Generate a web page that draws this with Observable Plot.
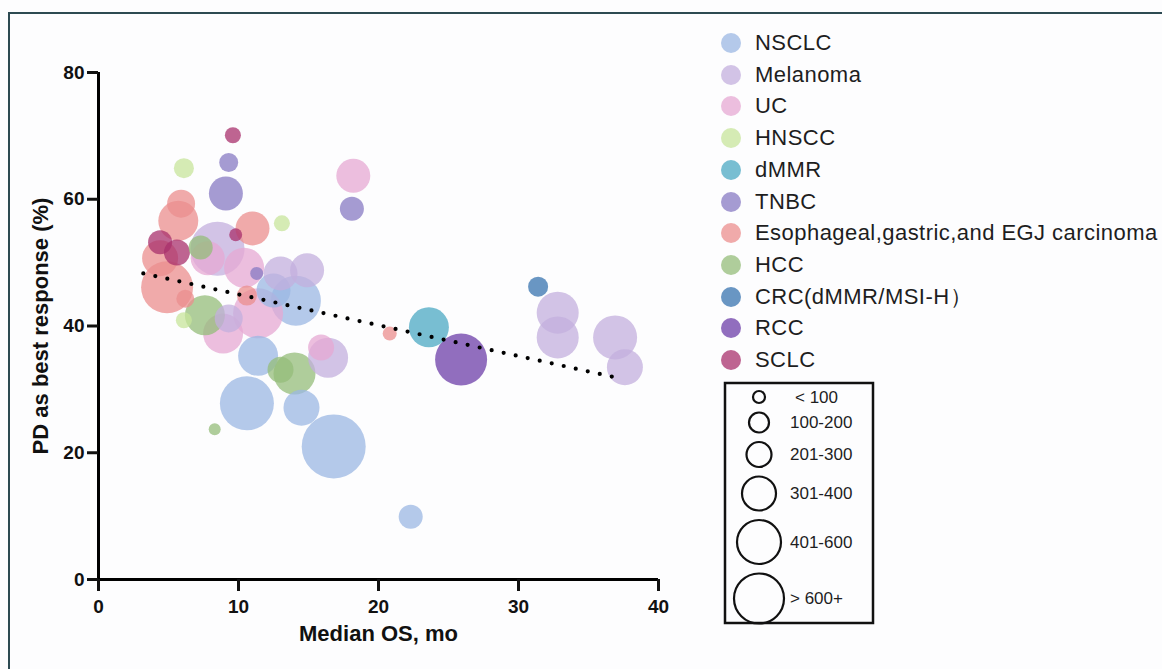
<!DOCTYPE html>
<html>
<head>
<meta charset="utf-8">
<script src="https://cdn.jsdelivr.net/npm/d3@7"></script>
<script src="https://cdn.jsdelivr.net/npm/@observablehq/plot@0.6"></script>
<style>
  html, body { margin: 0; padding: 0; background: #ffffff; }
  #wrap { position: relative; width: 1162px; height: 669px; overflow: hidden; background: #fdfdfe;
          font-family: "Liberation Sans", Arial, Helvetica, sans-serif; }
  #plot { position: absolute; left: 0; top: 0; }
  #plot g[aria-label$="tick label"] { font-size: 19px; font-weight: bold; }
  .bt { position: absolute; background: #2d4a52; }
  #catLegend { position: absolute; left: 0; top: 0; }
  .lrow { position: absolute; display: flex; align-items: center; white-space: nowrap; }
  .ldot { width: 20px; height: 20px; border-radius: 50%; margin-right: 14px; }
  .ltxt { font-size: 22px; color: #1e1e1e; letter-spacing: 0.45px; }
  #sizeLegend { position: absolute; left: 0; top: 0; }
</style>
</head>
<body>
<div id="wrap">
  <div class="bt" style="left:8px;top:12px;width:1154px;height:1.5px"></div>
  <div class="bt" style="left:8px;top:12px;width:1.5px;height:657px"></div>
  <div id="plot"></div>
  <div id="catLegend"></div>
  <svg id="sizeLegend" width="1162" height="669"></svg>
</div>
<script>
// ---------------- data ----------------
const categories = [
  "NSCLC", "Melanoma", "UC", "HNSCC", "dMMR", "TNBC",
  "Esophageal,gastric,and EGJ carcinoma", "HCC", "CRC(dMMR/MSI-H）", "RCC", "SCLC"
];
const categoryColors = [
  "#9bb7e3", "#c3afde", "#e6a8d3", "#c7e49b", "#4ba8c3", "#8779c3",
  "#eb8e8e", "#94bc7a", "#3773af", "#6c3ea8", "#a8306c"
];

// one entry per study (bubble)
const pointCategory = [
  "NSCLC","NSCLC","NSCLC","NSCLC","NSCLC","NSCLC","NSCLC",
  "Melanoma","Melanoma","Melanoma","Melanoma","Melanoma","Melanoma","Melanoma","Melanoma","Melanoma",
  "UC","UC","UC","UC","UC","UC",
  "HNSCC","HNSCC","HNSCC",
  "dMMR",
  "TNBC","TNBC","TNBC","TNBC",
  "Esophageal,gastric,and EGJ carcinoma","Esophageal,gastric,and EGJ carcinoma",
  "Esophageal,gastric,and EGJ carcinoma","Esophageal,gastric,and EGJ carcinoma",
  "Esophageal,gastric,and EGJ carcinoma","Esophageal,gastric,and EGJ carcinoma",
  "Esophageal,gastric,and EGJ carcinoma","Esophageal,gastric,and EGJ carcinoma",
  "HCC","HCC","HCC","HCC","HCC",
  "CRC(dMMR/MSI-H）",
  "RCC",
  "SCLC","SCLC","SCLC","SCLC"
];
const medianOS = [
  14.1, 12.5, 11.4, 10.6, 14.5, 16.8, 22.3,
  8.5, 13.0, 14.9, 16.4, 32.8, 32.8, 36.9, 37.6, 9.3,
  18.2, 10.4, 7.8, 11.4, 8.9, 15.9,
  6.1, 13.1, 6.1,
  23.6,
  9.3, 9.1, 18.1, 11.3,
  5.9, 5.7, 11.0, 4.4, 4.9, 6.2, 10.6, 20.8,
  7.3, 7.6, 14.0, 13.0, 8.3,
  31.4,
  25.9,
  9.6, 9.8, 4.4, 5.6
];
const pdBest = [
  44.0, 45.6, 35.3, 27.8, 27.1, 21.0, 9.9,
  52.2, 48.3, 48.8, 35.0, 42.1, 38.2, 38.2, 33.5, 41.2,
  63.7, 49.2, 50.7, 42.0, 38.8, 36.6,
  64.9, 56.2, 40.9,
  39.8,
  65.8, 60.9, 58.5, 48.3,
  59.3, 56.6, 55.4, 50.7, 46.1, 44.3, 44.8, 38.8,
  52.4, 41.7, 32.5, 33.1, 23.7,
  46.2,
  34.7,
  70.1, 54.4, 53.2, 51.6
];
const sampleSize = [
  610, 282, 390, 712, 316, 1000, 141,
  712, 282, 282, 390, 431, 431, 473, 316, 191,
  282, 390, 282, 610, 390, 165,
  98, 63, 63,
  390,
  88, 282, 141, 41,
  191, 390, 282, 316, 660, 79, 98, 48,
  141, 390, 431, 165, 35,
  98,
  660,
  63, 41, 141, 165
];

// dotted trend line
const trendOS = [3.2, 36.9];
const trendPD = [48.3, 31.9];

const xTicks = [0, 10, 20, 30, 40];
const yTicks = [0, 20, 40, 60, 80];
const sizeLabels = ["< 100", "100-200", "201-300", "301-400", "401-600", "> 600+"];

// ---------------- chart ----------------
const points = medianOS.map((x, i) => ({cat: pointCategory[i], os: x, pd: pdBest[i], n: sampleSize[i]}));
const trend = trendOS.map((x, i) => ({os: x, pd: trendPD[i]}));

const chart = Plot.plot({
  width: 700,
  height: 669,
  marginLeft: 98,
  marginRight: 42,
  marginTop: 72,
  marginBottom: 90,
  style: {fontFamily: "'Liberation Sans', Arial, Helvetica, sans-serif", background: "transparent", overflow: "visible", color: "#111"},
  x: {domain: [0, 40]},
  y: {domain: [0, 80]},
  r: {type: "sqrt", domain: [0, 1000], range: [0, 32]},
  color: {domain: categories, range: categoryColors},
  marks: [
    Plot.dot(points, {x: "os", y: "pd", r: "n", fill: "cat", fillOpacity: 0.75, stroke: "none"}),
    Plot.line(trend, {x: "os", y: "pd", stroke: "#000", strokeWidth: 4.2, strokeDasharray: "0,12.3", strokeLinecap: "round"}),
    Plot.ruleX([0], {y1: 0, y2: 80, stroke: "#000", strokeWidth: 3}),
    Plot.ruleY([0], {x1: 0, x2: 40, stroke: "#000", strokeWidth: 3}),
    Plot.axisX({ticks: xTicks, tickSize: 12, tickPadding: 8, strokeWidth: 3, fontSize: 19, fontWeight: "bold", label: null}),
    Plot.axisY({ticks: yTicks, tickSize: 11, tickPadding: 3, strokeWidth: 3, fontSize: 19, fontWeight: "bold", label: null}),
    Plot.text(["Median OS, mo"], {frameAnchor: "bottom", dy: 61, fontSize: 22, fontWeight: "bold", fill: "#111", textAnchor: "middle"}),
    Plot.text(["PD as best response (%)"], {frameAnchor: "left", dx: -58, rotate: -90, fontSize: 22, fontWeight: "bold", fill: "#111", textAnchor: "middle"})
  ]
});
document.getElementById("plot").appendChild(chart);

// ---------------- category legend ----------------
const catLegend = document.getElementById("catLegend");
const rowY0 = 43, rowStep = 31.7;
categories.forEach((c, i) => {
  const row = document.createElement("div");
  row.className = "lrow";
  row.style.left = "721px";
  row.style.top = (rowY0 + i * rowStep - 13) + "px";
  row.style.height = "26px";
  const dot = document.createElement("div");
  dot.className = "ldot";
  dot.style.background = categoryColors[i];
  dot.style.opacity = 0.75;
  const txt = document.createElement("span");
  txt.className = "ltxt";
  txt.textContent = c;
  row.appendChild(dot);
  row.appendChild(txt);
  catLegend.appendChild(row);
});

// ---------------- size legend ----------------
const legendRadii = [6, 10, 12.5, 17, 22, 25];
const svg = d3.select("#sizeLegend");
svg.append("rect").attr("x", 725).attr("y", 383).attr("width", 148).attr("height", 240)
  .attr("fill", "none").attr("stroke", "#111").attr("stroke-width", 2.5);
let cy = 397;
legendRadii.forEach((r, i) => {
  if (i > 0) cy += legendRadii[i - 1] + r + 9.5;
  svg.append("circle").attr("cx", 759).attr("cy", cy).attr("r", r)
    .attr("fill", "none").attr("stroke", "#111").attr("stroke-width", 2.2);
  svg.append("text").attr("x", i === 0 ? 795 : 790).attr("y", cy).attr("dy", "0.35em")
    .attr("font-size", 17).attr("fill", "#1e1e1e")
    .attr("font-family", "'Liberation Sans', Arial, sans-serif")
    .text(sizeLabels[i]);
});
</script>
</body>
</html>
